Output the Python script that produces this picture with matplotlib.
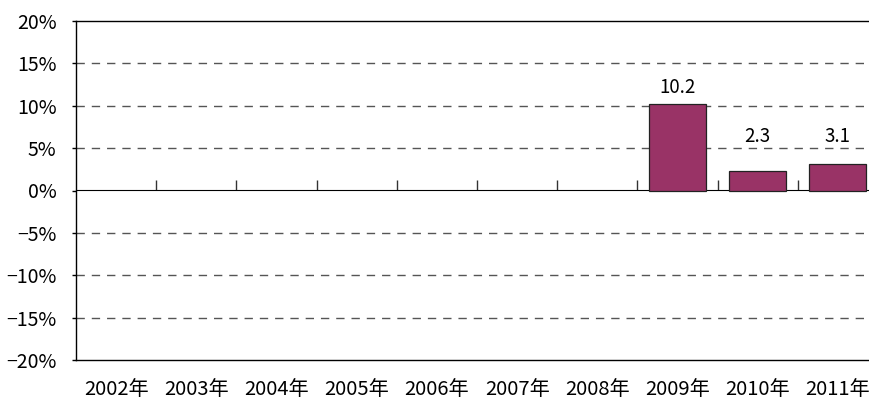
import matplotlib
matplotlib.use("Agg")
import matplotlib.pyplot as plt
import numpy as np

plt.rcParams['font.family'] = ['Noto Sans CJK JP', 'DejaVu Sans']

categories = ["2002年", "2003年", "2004年", "2005年", "2006年", "2007年",
              "2008年", "2009年", "2010年", "2011年"]
values = [None, None, None, None, None, None, None, 10.2, 2.3, 3.1]
yticks = [-20, -15, -10, -5, 0, 5, 10, 15, 20]
ytick_labels = ["−20%", "−15%", "−10%", "−5%", "0%", "5%", "10%", "15%", "20%"]
# label offsets (points) above bar tops, as placed in the original
label_offsets = [0, 0, 0, 0, 0, 0, 0, 4, 17, 12.5]

fig = plt.figure(figsize=(8.70, 4.03), dpi=100)
ax = fig.add_axes([76/870, 43/403, 802/870, 339/403])

x = np.arange(len(categories))
for xi, v, off in zip(x, values, label_offsets):
    if v is None:
        continue
    ax.bar(xi, v, width=0.71, color='#993366', edgecolor='#222222', linewidth=0.9, zorder=3)
    ax.annotate(f"{v:.1f}", (xi, v), xytext=(0, off), textcoords='offset points',
                ha='center', va='bottom', fontsize=13.5, color='black', zorder=5)

ax.set_xlim(-0.5, len(categories) - 0.5)
ax.set_ylim(-20, 20)
ax.set_yticks(yticks)
ax.set_yticklabels(ytick_labels, fontsize=14)
ax.tick_params(axis='y', direction='out', length=3, width=1, pad=11, colors='black')

ax.set_xticks(x)
ax.set_xticklabels(categories, fontsize=14.5)
ax.tick_params(axis='x', length=0, pad=14)

for y in yticks:
    if y in (-20, 0, 20):
        continue
    ax.axhline(y, color='#555555', linewidth=1, linestyle=(0, (6, 5)), zorder=1)

for s in ['left', 'top', 'bottom']:
    ax.spines[s].set_color('black')
    ax.spines[s].set_linewidth(1)
ax.spines['right'].set_visible(False)

sec = ax.secondary_xaxis(0.5)
sec.set_xticks(np.arange(0.5, len(categories) - 0.5, 1.0))
sec.set_xticklabels([])
sec.tick_params(direction='out', length=7, width=1, colors='#333333')
sec.spines['bottom'].set_color('black')
sec.spines['bottom'].set_linewidth(1)
sec.spines['bottom'].set_zorder(4)

fig.savefig("out.png", dpi=100)
